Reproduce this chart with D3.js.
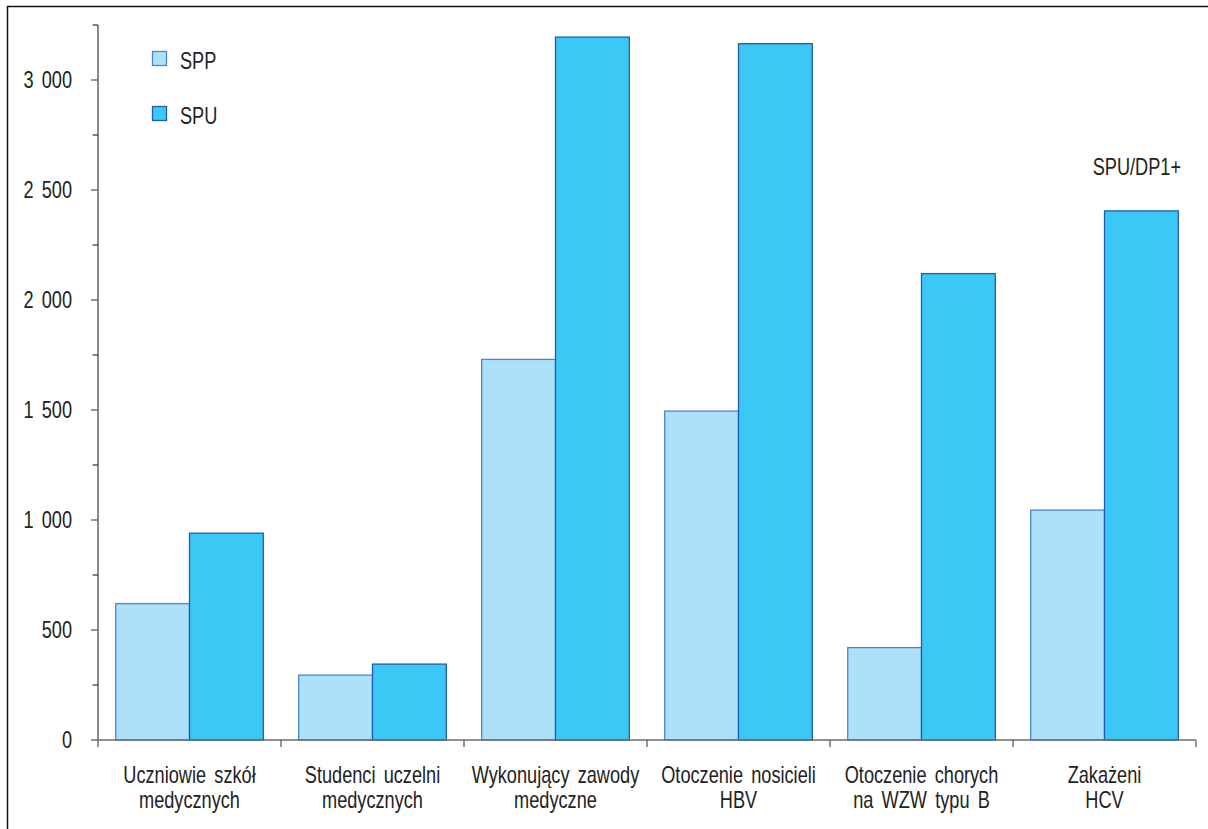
<!DOCTYPE html>
<html><head><meta charset="utf-8">
<script src="https://cdn.jsdelivr.net/npm/d3@7"></script>
<style>
body{margin:0;background:#fff;}
text{font-family:"Liberation Sans",Arial,sans-serif;fill:#222;font-size:23px;}
</style></head>
<body><svg id="c" width="1208" height="829"></svg>
<script>
const categories = [
  ["Uczniowie szkół","medycznych"],
  ["Studenci uczelni","medycznych"],
  ["Wykonujący zawody","medyczne"],
  ["Otoczenie nosicieli","HBV"],
  ["Otoczenie chorych","na WZW typu B"],
  ["Zakażeni","HCV"]
];
const seriesNames = ["SPP","SPU"];
const sppValues = [620, 295, 1730, 1495, 420, 1045];
const spuValues = [940, 345, 3195, 3165, 2120, 2405];
const yTicks = [0, 500, 1000, 1500, 2000, 2500, 3000];
const yMinorTicks = [250, 750, 1250, 1750, 2250, 2750, 3250];
const annotation = "SPU/DP1+";

(function(){
const fills = {SPP:"#ade1f9", SPU:"#3cc8f4"};
const strokes = {SPP:"#4a86cc", SPU:"#1d5cb4"};
const SX = 0.79;

const svg = d3.select("#c");
function label(x, yy, str, anchor, dy){
  const gg = svg.append("g").attr("transform",`translate(${x},${yy}) scale(${SX},1)`);
  const t = gg.append("text").attr("text-anchor",anchor||"start").attr("word-spacing","4px").text(str);
  if(dy) t.attr("dy",dy);
  return t;
}
// frame
svg.append("line").attr("x1",7.5).attr("x2",7.5).attr("y1",6).attr("y2",829).attr("stroke","#111").attr("stroke-width",1.5);
svg.append("line").attr("x1",7).attr("x2",1208).attr("y1",6.5).attr("y2",6.5).attr("stroke","#111").attr("stroke-width",1.5);

const pl = 98, pr = 1196, pb = 740, pt = 25;
const cats = categories.map(d=>d.join(" "));
const x0 = d3.scaleBand().domain(cats).range([pl,pr]).padding(0);
const x1 = d3.scaleBand().domain(seriesNames).range([0,x0.bandwidth()]).paddingInner(0).paddingOuter(0.24);
const y = d3.scaleLinear().domain([0,3250]).range([pb,pt]);

const data = cats.map((c,i)=>({cat:c, SPP:sppValues[i], SPU:spuValues[i]}));

const g = svg.append("g");
data.forEach(d=>{
  seriesNames.forEach(s=>{
    g.append("rect")
      .attr("x", x0(d.cat)+x1(s))
      .attr("y", y(d[s]))
      .attr("width", x1.bandwidth())
      .attr("height", y(0)-y(d[s]))
      .attr("fill", fills[s])
      .attr("stroke", strokes[s])
      .attr("stroke-width", 1.3);
  });
});

const axisColor = "#6b6b6b";
// y axis
svg.append("line").attr("x1",pl).attr("x2",pl).attr("y1",y(3250)).attr("y2",pb).attr("stroke",axisColor).attr("stroke-width",1.6);
yTicks.forEach(t=>{
  svg.append("line").attr("x1",pl-7).attr("x2",pl).attr("y1",y(t)).attr("y2",y(t)).attr("stroke",axisColor).attr("stroke-width",1.4);
  label(72, y(t), d3.format(",")(t).replace(/,/g," "), "end", "0.36em");
});
yMinorTicks.forEach(t=>{
  svg.append("line").attr("x1",pl-5.5).attr("x2",pl).attr("y1",y(t)).attr("y2",y(t)).attr("stroke","#333").attr("stroke-width",1.2);
});
// x axis
svg.append("line").attr("x1",pl).attr("x2",pr).attr("y1",pb).attr("y2",pb).attr("stroke",axisColor).attr("stroke-width",1.6);
const bounds = cats.map(c=>x0(c)).concat([pr]);
bounds.forEach(b=>{
  svg.append("line").attr("x1",b).attr("x2",b).attr("y1",pb).attr("y2",pb+7).attr("stroke",axisColor).attr("stroke-width",1.4);
});
categories.forEach((lines,i)=>{
  const cx = x0(cats[i]) + x0.bandwidth()/2;
  lines.forEach((l,j)=>{
    label(cx, 783 + j*24.5, l, "middle");
  });
});

// legend
seriesNames.forEach((s,i)=>{
  const ly = 51.5 + i*55;
  svg.append("rect").attr("x",152.5).attr("y",ly).attr("width",14).attr("height",14)
    .attr("fill",fills[s]).attr("stroke",strokes[s]).attr("stroke-width",1.3);
  label(180, ly+17.5, s, "start");
});

// annotation
label(1181, 175, annotation, "end");
})();
</script></body></html>
